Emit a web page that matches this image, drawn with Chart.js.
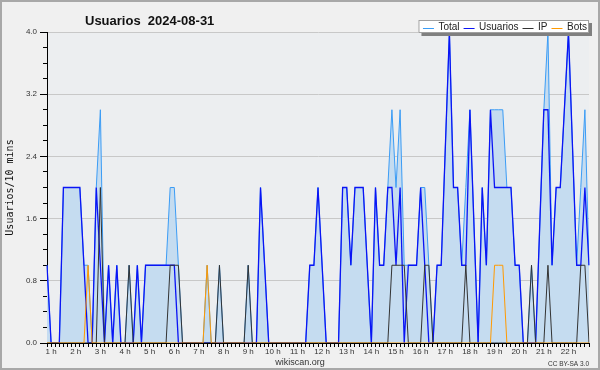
<!DOCTYPE html>
<html>
<head>
<meta charset="utf-8">
<script src="https://cdn.jsdelivr.net/npm/chart.js@4/dist/chart.umd.min.js"></script>
<style>
  html, body { margin: 0; padding: 0; background: #f0f0f0; }
  #wrap { width: 600px; height: 370px; position: relative; }
</style>
</head>
<body>
<div id="wrap"><canvas id="chart"></canvas></div>
<script>
// Usuarios 2024-08-31 — one value every 10 minutes, 1 h to ~23 h

const chartTitle = 'Usuarios  2024-08-31';
const hourLabels = ['1 h', '2 h', '3 h', '4 h', '5 h', '6 h', '7 h', '8 h', '9 h', '10 h', '11 h',
  '12 h', '13 h', '14 h', '15 h', '16 h', '17 h', '18 h', '19 h', '20 h', '21 h', '22 h'];
const yTickLabels = ['0.0', '0.8', '1.6', '2.4', '3.2', '4.0'];

// rows of 12 values = 2 hours
const totalValues = [
  1, 0, 0, 0, 2, 2, 2, 2, 2, 1, 1, 0,
  2, 3, 0, 1, 0, 1, 0, 0, 1, 0, 1, 0,
  1, 1, 1, 1, 1, 1, 2, 2, 1, 0, 0, 0,
  0, 0, 0, 1, 0, 0, 1, 0, 0, 0, 0, 0,
  0, 1, 0, 0, 2, 1, 0, 0, 0, 0, 0, 0,
  0, 0, 0, 0, 1, 1, 2, 1, 0, 0, 0, 0,
  2, 2, 1, 2, 2, 2, 1, 0, 2, 1, 1, 2,
  3, 2, 3, 1, 1, 1, 1, 2, 2, 1, 0, 1,
  1, 2.5, 4, 2, 2, 1, 2, 3, 1.5, 0, 2, 1,
  3, 3, 3, 3, 2, 2, 1, 1, 0, 0, 1, 0,
  1.5, 3, 4, 1, 2, 2, 3, 4, 2.5, 1, 2, 3,
  1
];
const usuariosValues = [
  1, 0, 0, 0, 2, 2, 2, 2, 2, 1, 0, 0,
  2, 1, 0, 1, 0, 1, 0, 0, 0, 0, 1, 0,
  1, 1, 1, 1, 1, 1, 1, 1, 0, 0, 0, 0,
  0, 0, 0, 0, 0, 0, 0, 0, 0, 0, 0, 0,
  0, 0, 0, 0, 2, 1, 0, 0, 0, 0, 0, 0,
  0, 0, 0, 0, 1, 1, 2, 1, 0, 0, 0, 0,
  2, 2, 1, 2, 2, 2, 1, 0, 2, 1, 1, 2,
  2, 1, 2, 0, 1, 1, 1, 2, 1, 0, 0, 1,
  1, 2.5, 4, 2, 2, 1, 1, 3, 1.5, 0, 2, 1,
  3, 2, 2, 2, 2, 2, 1, 1, 0, 0, 0, 0,
  1.5, 3, 3, 1, 2, 2, 3, 4, 2.5, 1, 1, 2,
  1
];
const ipValues = [
  0, 0, 0, 0, 0, 0, 0, 0, 0, 0, 0, 0,
  0, 2, 0, 0, 0, 0, 0, 0, 1, 0, 0, 0,
  0, 0, 0, 0, 0, 0, 1, 1, 1, 0, 0, 0,
  0, 0, 0, 0, 0, 0, 1, 0, 0, 0, 0, 0,
  0, 1, 0, 0, 0, 0, 0, 0, 0, 0, 0, 0,
  0, 0, 0, 0, 0, 0, 0, 0, 0, 0, 0, 0,
  0, 0, 0, 0, 0, 0, 0, 0, 0, 0, 0, 0,
  1, 1, 1, 1, 0, 0, 0, 0, 1, 1, 0, 0,
  0, 0, 0, 0, 0, 0, 1, 0, 0, 0, 0, 0,
  0, 0, 0, 0, 0, 0, 0, 0, 0, 0, 1, 0,
  0, 0, 1, 0, 0, 0, 0, 0, 0, 0, 1, 1,
  0
];
const botsValues = [
  0, 0, 0, 0, 0, 0, 0, 0, 0, 0, 1, 0,
  0, 0, 0, 0, 0, 0, 0, 0, 0, 0, 0, 0,
  0, 0, 0, 0, 0, 0, 0, 0, 0, 0, 0, 0,
  0, 0, 0, 1, 0, 0, 0, 0, 0, 0, 0, 0,
  0, 0, 0, 0, 0, 0, 0, 0, 0, 0, 0, 0,
  0, 0, 0, 0, 0, 0, 0, 0, 0, 0, 0, 0,
  0, 0, 0, 0, 0, 0, 0, 0, 0, 0, 0, 0,
  0, 0, 0, 0, 0, 0, 0, 0, 0, 0, 0, 0,
  0, 0, 0, 0, 0, 0, 0, 0, 0, 0, 0, 0,
  0, 1, 1, 1, 0, 0, 0, 0, 0, 0, 0, 0,
  0, 0, 0, 0, 0, 0, 0, 0, 0, 0, 0, 0,
  0
];

// hour label sits on the slot one step after the first sample
const slotLabels = totalValues.map((_, i) => (i - 1) % 6 === 0 ? hourLabels[(i - 1) / 6] : '');

const isMajor = v => Math.abs(v / 0.8 - Math.round(v / 0.8)) < 1e-6;
const SANS = '"Liberation Sans", Arial, sans-serif';

const decorPlugin = {
  id: 'decor',
  beforeDraw(chart) {
    const { ctx, chartArea: a } = chart;
    ctx.save();
    ctx.fillStyle = '#f0f0f0';
    ctx.fillRect(0, 0, chart.width, chart.height);
    ctx.strokeStyle = '#a8a8a8';
    ctx.lineWidth = 2;
    ctx.strokeRect(1, 1, chart.width - 2, chart.height - 2);
    ctx.fillStyle = '#eceef0';
    ctx.fillRect(a.left, a.top, a.right - a.left, a.bottom - a.top);
    ctx.restore();
  },
  afterDraw(chart) {
    const { ctx, chartArea: a } = chart;
    ctx.save();
    // title
    ctx.fillStyle = '#111';
    ctx.font = 'bold 13px ' + SANS;
    ctx.textBaseline = 'alphabetic';
    ctx.textAlign = 'left';
    ctx.fillText(chartTitle, 85, 24.5);

    // legend box, top right
    ctx.font = '10px ' + SANS;
    const lineLen = 11, gapText = 4.5, gapItem = 4;
    const items = chart.data.datasets;
    let w = 4.5;
    items.forEach((d, k) => {
      w += lineLen + gapText + ctx.measureText(d.label).width + (k < items.length - 1 ? gapItem : 2);
    });
    const bx = a.right - w, by = 20, bh = 13;
    ctx.fillStyle = '#808080';
    ctx.fillRect(bx + 3, by + 3, w, bh);
    ctx.fillStyle = '#ffffff';
    ctx.fillRect(bx, by, w, bh);
    ctx.strokeStyle = '#a0a0a0';
    ctx.lineWidth = 1;
    ctx.strokeRect(bx + 0.5, by + 0.5, w - 1, bh - 1);
    let x = bx + 4.5;
    const cy = by + bh / 2 + 1;
    ctx.textBaseline = 'middle';
    items.forEach(d => {
      ctx.strokeStyle = d.borderColor;
      ctx.lineWidth = 1;
      ctx.beginPath();
      ctx.moveTo(x, Math.round(cy) + 0.5);
      ctx.lineTo(x + lineLen, Math.round(cy) + 0.5);
      ctx.stroke();
      x += lineLen + gapText;
      ctx.fillStyle = '#222';
      ctx.fillText(d.label, x, cy);
      x += ctx.measureText(d.label).width + gapItem;
    });

    // footer
    ctx.fillStyle = '#333';
    ctx.textAlign = 'center';
    ctx.textBaseline = 'alphabetic';
    ctx.font = '9px ' + SANS;
    ctx.fillText('wikiscan.org', 300, 365);
    ctx.textAlign = 'right';
    ctx.font = '6.5px ' + SANS;
    ctx.fillText('CC BY-SA 3.0', 589, 366);
    ctx.restore();
  }
};

const lineBase = { pointRadius: 0, borderWidth: 1, tension: 0, fill: false };

new Chart(document.getElementById('chart').getContext('2d'), {
  type: 'line',
  data: {
    labels: slotLabels,
    datasets: [
      { ...lineBase, label: 'Total', data: totalValues, borderColor: '#3b9cf5',
        backgroundColor: '#c5dcf0', fill: 'origin', order: 4 },
      { ...lineBase, label: 'Usuarios', data: usuariosValues, borderColor: '#0a14f5', borderWidth: 1.3, order: 3 },
      { ...lineBase, label: 'IP', data: ipValues, borderColor: '#333333', order: 2 },
      { ...lineBase, label: 'Bots', data: botsValues, borderColor: '#ff9a00', order: 1 }
    ]
  },
  options: {
    responsive: true,
    maintainAspectRatio: false,
    animation: false,
    events: [],
    layout: { padding: { top: 32, right: 11, left: 0, bottom: 0 } },
    plugins: { legend: { display: false }, title: { display: false }, tooltip: { enabled: false } },
    scales: {
      x: {
        type: 'category',
        offset: false,
        afterFit: s => { s.height = 27; },
        border: { display: true, color: '#000', width: 1 },
        grid: { drawOnChartArea: false, drawTicks: true, tickLength: 4, tickColor: '#000' },
        ticks: { autoSkip: false, maxRotation: 0, minRotation: 0, padding: 0,
          color: '#333', font: { family: SANS, size: 8 } }
      },
      y: {
        min: 0,
        max: 4,
        afterFit: s => { s.width = 47; },
        border: { display: true, color: '#000', width: 1 },
        grid: {
          color: c => (c.tick && isMajor(c.tick.value)) ? '#c8c8c8' : 'rgba(0,0,0,0)',
          tickColor: '#000',
          tickLength: 7,
          // minor ticks: only the 4 px next to the axis
          tickBorderDash: c => (c.tick && isMajor(c.tick.value)) ? [] : [0, 3, 4, 20]
        },
        ticks: {
          stepSize: 0.2,
          padding: 3,
          color: '#333',
          font: { family: SANS, size: 8 },
          callback: v => isMajor(v) ? yTickLabels[Math.round(v / 0.8)] : ''
        },
        title: {
          display: true,
          text: 'Usuarios/10 mins',
          color: '#111',
          font: { family: '"DejaVu Sans Mono", monospace', size: 10 },
          padding: { top: 4, bottom: 0 }
        }
      }
    }
  },
  plugins: [decorPlugin]
});
</script>
</body>
</html>
